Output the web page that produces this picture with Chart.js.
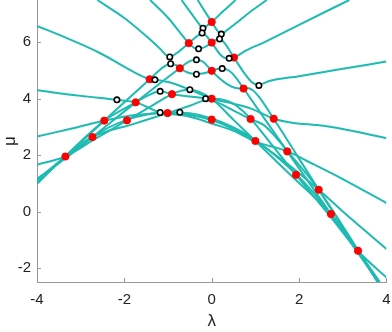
<!DOCTYPE html>
<html>
<head>
<meta charset="utf-8">
<script src="https://cdn.jsdelivr.net/npm/chart.js@4.4.0/dist/chart.umd.min.js"></script>
<style>
  html, body { margin: 0; padding: 0; background: #fff; }
  #wrap { width: 392px; height: 332px; }
</style>
</head>
<body>
<div id="wrap"><canvas id="specChart" width="392" height="332"></canvas></div>
<script>
// branches mu(lambda)
const lam1 = [-1.41, -1.0, -0.525, -0.40, -0.30, -0.15, 0, 0.10, 0.18, 0.30, 0.51, 0.75, 0.93, 1.08, 1.3, 2.0, 3.0, 4.0];
const mu1  = [7.5, 6.87, 5.97, 5.80, 5.77, 5.84, 5.99, 6.09, 6.12, 5.96, 5.46, 4.90, 4.57, 4.49, 4.62, 4.80, 5.06, 5.32];
const lam2 = [-2.62, -2.0, -1.5, -1.2, -0.96, -0.80, -0.525, -0.35, -0.22, -0.10, 0, 0.2, 0.30, 0.40, 0.51, 0.8, 1.2, 2.0, 3.15];
const mu2  = [7.5, 6.86, 6.22, 5.80, 5.48, 5.62, 5.97, 6.20, 6.33, 6.19, 5.99, 5.56, 5.45, 5.43, 5.46, 5.72, 6.0, 6.62, 7.5];
const lam3 = [-0.69, -0.45, -0.30, -0.20, -0.10, 0, 0.25, 0.547];
const mu3  = [7.5, 6.99, 6.67, 6.50, 6.60, 6.72, 7.08, 7.5];
const lam4 = [-0.32, -0.15, 0, 0.10, 0.22, 0.35, 0.6, 0.9, 1.26];
const mu4  = [7.5, 7.08, 6.72, 6.48, 6.29, 6.43, 6.73, 7.1, 7.5];
const lam5 = [-4, -3.35, -2.46, -1.42, -1.1, -0.94, -0.80, -0.73, -0.55, -0.35, -0.15, 0, 0.12, 0.24, 0.40, 0.55, 0.73, 1.73, 2.73, 3.3, 3.82];
const mu5  = [1.02, 1.95, 3.22, 4.69, 5.13, 5.24, 5.18, 5.08, 4.93, 4.87, 4.91, 4.99, 5.05, 5.07, 4.99, 4.76, 4.36, 2.13, -0.09, -1.36, -2.5];
const lam6 = [-4, -3.4, -2.73, -1.74, -0.73, -0.50, -0.35, -0.20, 0, 0.15, 0.35, 0.55, 0.73, 0.80, 0.94, 1.1, 1.42, 2.45, 3.35, 3.8];
const mu6  = [1.16, 1.83, 2.64, 3.87, 5.08, 5.33, 5.38, 5.31, 4.99, 4.76, 4.52, 4.38, 4.36, 4.38, 4.30, 4.03, 3.29, 0.77, -1.39, -2.5];
const lam7 = [-4, -3.35, -2.7, -1.94, -1.4, -0.91, -0.7, -0.5, -0.3, 0, 0.5, 1.0, 1.8, 2.73, 3.3, 3.85];
const mu7  = [1.66, 1.95, 2.55, 3.23, 3.72, 4.16, 4.28, 4.32, 4.25, 4.0, 3.25, 2.5, 1.3, -0.09, -1.30, -2.5];
const lam8 = [-4, -3.3, -2.73, -1.8, -1.01, -0.5, 0, 0.3, 0.5, 0.7, 0.91, 1.4, 1.93, 2.7, 3.35, 4.0];
const mu8  = [1.12, 2.0, 2.64, 3.1, 3.49, 3.75, 4.0, 3.95, 3.82, 3.58, 3.26, 2.32, 1.30, -0.15, -1.40, -2.34];
const lamArc = [-4, -3.35, -2.73, -1.94, -1.01, -0.5, 0, 0.5, 1.0, 1.94, 2.73, 3.35, 3.8];
const muArc  = [0.98, 1.95, 2.66, 3.25, 3.52, 3.48, 3.3, 2.98, 2.53, 1.31, -0.08, -1.41, -2.5];
const lamA = [-4, -3.32, -2.56, -1.8, -1.42, -1.3, -0.9, -0.5, 0, 0.5, 0.9, 1.42, 1.8, 2.56, 3.32, 4];
const muA  = [6.58, 6.15, 5.62, 4.96, 4.69, 4.67, 4.55, 4.32, 4.0, 3.82, 3.65, 3.29, 3.16, 3.04, 2.83, 2.6];
const lamB = [-4, -3, -2.17, -1.74, -1.18, -1.01, -0.5, 0, 0.5, 1.0, 1.74, 2.17, 3, 4];
const muB  = [4.30, 4.10, 3.96, 3.87, 3.51, 3.47, 3.36, 3.12, 2.86, 2.48, 2.13, 1.80, 1.15, 0.30];
const lamC = [-4, -3.2, -2.46, -1.74, -1.01, -0.5, 0, 0.5, 1.0, 1.74, 2.45, 3.2, 4];
const muC  = [2.66, 2.94, 3.22, 3.42, 3.49, 3.42, 3.24, 2.92, 2.50, 1.68, 0.77, -0.27, -1.33];
const lamC2 = [-4, -3.35, -2.46, -1.74, -1.45, -1.18, -0.91, -0.5, -0.14, 0.14, 0.5, 0.91, 1.18, 1.45, 1.74, 2.45, 3.35, 3.8];
const muC2  = [1.04, 1.97, 3.22, 3.87, 4.12, 4.26, 4.16, 4.08, 4.0, 3.86, 3.58, 3.26, 3.08, 2.67, 2.13, 0.77, -1.37, -2.48];

// red markers
const redLam = [0, -0.525, 0, 0.51, -0.73, 0, -1.42, 0.73, -0.91, 0, -1.74, -1.01, 0, 0.89, 1.42,
                -2.46, -1.94, 1.0, -2.73, 1.73, -3.35, 1.93, 2.45, 2.73, 3.35];
const redMu  = [6.72, 5.97, 5.99, 5.46, 5.08, 4.99, 4.69, 4.36, 4.16, 4.0, 3.87, 3.49, 3.26, 3.28, 3.29,
                3.22, 3.23, 2.50, 2.64, 2.13, 1.95, 1.30, 0.77, -0.09, -1.39];
// open markers
const openLam = [-0.2, -0.22, 0.22, 0.18, -0.30, 0.40, -0.96, -0.94, -0.35, 0.24, -0.35, -1.30,
                 -2.17, -1.18, -0.50, -0.14, 1.08, -1.18, -0.73];
const openMu  = [6.50, 6.33, 6.29, 6.12, 5.77, 5.43, 5.48, 5.24, 5.38, 5.07, 4.87, 4.67,
                 3.96, 4.26, 4.32, 4.0, 4.47, 3.51, 3.52];

const teal = '#1ebbb2';
const curves = [
  [lam1, mu1], [lam2, mu2], [lam3, mu3], [lam4, mu4], [lam5, mu5], [lam6, mu6], [lam7, mu7], [lam8, mu8],
  [lamArc, muArc], [lamA, muA], [lamB, muB], [lamC, muC], [lamC2, muC2]
];
const pts = (xs, ys) => xs.map((x, i) => ({x: x, y: ys[i]}));

const datasets = curves.map(c => ({
  type: 'line',
  data: pts(c[0], c[1]),
  borderColor: teal,
  borderWidth: 2,
  pointRadius: 0,
  cubicInterpolationMode: 'monotone',
  order: 3
}));
datasets.push({
  type: 'scatter',
  data: pts(redLam, redMu),
  backgroundColor: '#ff0000',
  borderColor: '#ff0000',
  pointRadius: 3.6,
  order: 2
});
datasets.push({
  type: 'scatter',
  data: pts(openLam, openMu),
  backgroundColor: '#ffffff',
  borderColor: '#000000',
  borderWidth: 1.6,
  pointRadius: 2.7,
  order: 1
});

// plot area runs up to the very top of the figure
const fillTop = {
  id: 'fillTop',
  afterLayout(chart) {
    const y = chart.scales.y;
    const ca = chart.chartArea;
    ca.top = 0;
    ca.height = ca.bottom - ca.top;
    y.top = 0;
    y.height = y.bottom - y.top;
    y.configure();
  }
};

// inward tick marks, axis style of the figure
const inTicks = {
  id: 'inTicks',
  afterDraw(chart) {
    const {ctx, chartArea, scales} = chart;
    ctx.save();
    ctx.strokeStyle = '#999';
    ctx.lineWidth = 1;
    scales.x.ticks.forEach(t => {
      const px = Math.round(scales.x.getPixelForValue(t.value)) + 0.5;
      ctx.beginPath();
      ctx.moveTo(px, chartArea.bottom);
      ctx.lineTo(px, chartArea.bottom - 4);
      ctx.stroke();
    });
    scales.y.ticks.forEach(t => {
      const py = Math.round(scales.y.getPixelForValue(t.value)) + 0.5;
      ctx.beginPath();
      ctx.moveTo(chartArea.left, py);
      ctx.lineTo(chartArea.left + 4, py);
      ctx.stroke();
    });
    ctx.restore();
  }
};

const tickFont = {family: 'Liberation Sans', size: 15};
new Chart(document.getElementById('specChart').getContext('2d'), {
  data: {datasets: datasets},
  plugins: [fillTop, inTicks],
  options: {
    responsive: false,
    animation: false,
    layout: {padding: {top: 0, right: 5, left: 0, bottom: 0}},
    plugins: {legend: {display: false}, tooltip: {enabled: false}},
    scales: {
      x: {
        type: 'linear', min: -4, max: 4,
        afterBuildTicks: s => { s.ticks = [-4, -2, 0, 2, 4].map(v => ({value: v})); },
        afterFit: s => { s.height = 50; s.paddingLeft = 0; s.paddingRight = 0; },
        grid: {display: false, drawTicks: false},
        border: {display: true, color: '#999', width: 1},
        ticks: {color: '#222', font: tickFont, padding: 9, maxRotation: 0},
        title: {display: true, text: 'λ', color: '#222', font: {family: 'Liberation Sans', size: 17}, padding: {top: 3, bottom: 0}}
      },
      y: {
        type: 'linear', min: -2.5, max: 7.5,
        afterBuildTicks: s => { s.ticks = [-2, 0, 2, 4, 6].map(v => ({value: v})); },
        afterFit: s => { s.width = 37; s.paddingTop = 0; s.paddingBottom = 0; },
        grid: {display: false, drawTicks: false},
        border: {display: true, color: '#999', width: 1},
        ticks: {color: '#222', font: tickFont, padding: 6},
        title: {display: true, text: 'μ', color: '#222', font: {family: 'Liberation Sans', size: 17}, padding: {top: 0, bottom: 0}}
      }
    }
  }
});
</script>
</body>
</html>
